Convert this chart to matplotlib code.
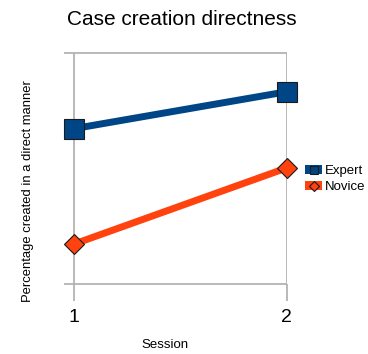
import matplotlib
matplotlib.use("Agg")
import matplotlib.pyplot as plt
from matplotlib.patches import Rectangle
from matplotlib.lines import Line2D

plt.rcParams['font.family'] = ['Liberation Sans', 'DejaVu Sans']

sessions = [1, 2]
expert = [67, 83]
novice = [17, 50]
series_names = ["Expert", "Novice"]

blue = "#004586"
orange = "#ff420e"
grid = "#b3b3b3"

fig = plt.figure(figsize=(3.68, 3.54), dpi=100)
ax = fig.add_axes([63.5/368, 70.5/354, 223/368, 231/354])

ax.plot(sessions, expert, color=blue, lw=5, marker='s', ms=14.5,
        mfc=blue, mec='#1a1a1a', mew=0.8, clip_on=False, zorder=3)
ax.plot(sessions, novice, color=orange, lw=5, marker='D', ms=10.5,
        mfc=orange, mec='#1a1a1a', mew=0.8, clip_on=False, zorder=3)

ax.set_xlim(0.953, 2.0)
ax.set_ylim(0, 100)
ax.set_xticks(sessions)
ax.set_yticks([])
ax.grid(axis='x', color=grid, lw=1.3)
ax.tick_params(axis='x', length=12, width=1.3, color=grid, labelsize=14, pad=6)
for s in ['left', 'right']:
    ax.spines[s].set_visible(False)
for s in ['top', 'bottom']:
    ax.spines[s].set_color(grid)
    ax.spines[s].set_linewidth(1.3)
    ax.spines[s].set_capstyle('butt')

ax.set_title("Case creation directness", fontsize=15, pad=20, x=0.53)
ax.set_xlabel("Session", fontsize=9.5, labelpad=10, x=0.457)
ax.set_ylabel("Percentage created in a direct manner", fontsize=9.4,
              labelpad=21, y=0.40)

h_exp = (Rectangle((0, 0), 1, 1, fc=blue, ec='none'),
         Line2D([], [], ls='', marker='s', ms=6, mfc=blue, mec='#1a1a1a', mew=0.8))
h_nov = (Rectangle((0, 0), 1, 1, fc=orange, ec='none'),
         Line2D([], [], ls='', marker='D', ms=5, mfc=orange, mec='#1a1a1a', mew=0.8))
fig.legend([h_exp, h_nov], series_names, loc='upper left',
           bbox_to_anchor=(300/368, 1 - 160/354), frameon=False,
           fontsize=9.5, handlelength=1.3, handleheight=0.6,
           handletextpad=0.2, labelspacing=0.3, borderaxespad=0)

fig.savefig("out.png", dpi=100)
